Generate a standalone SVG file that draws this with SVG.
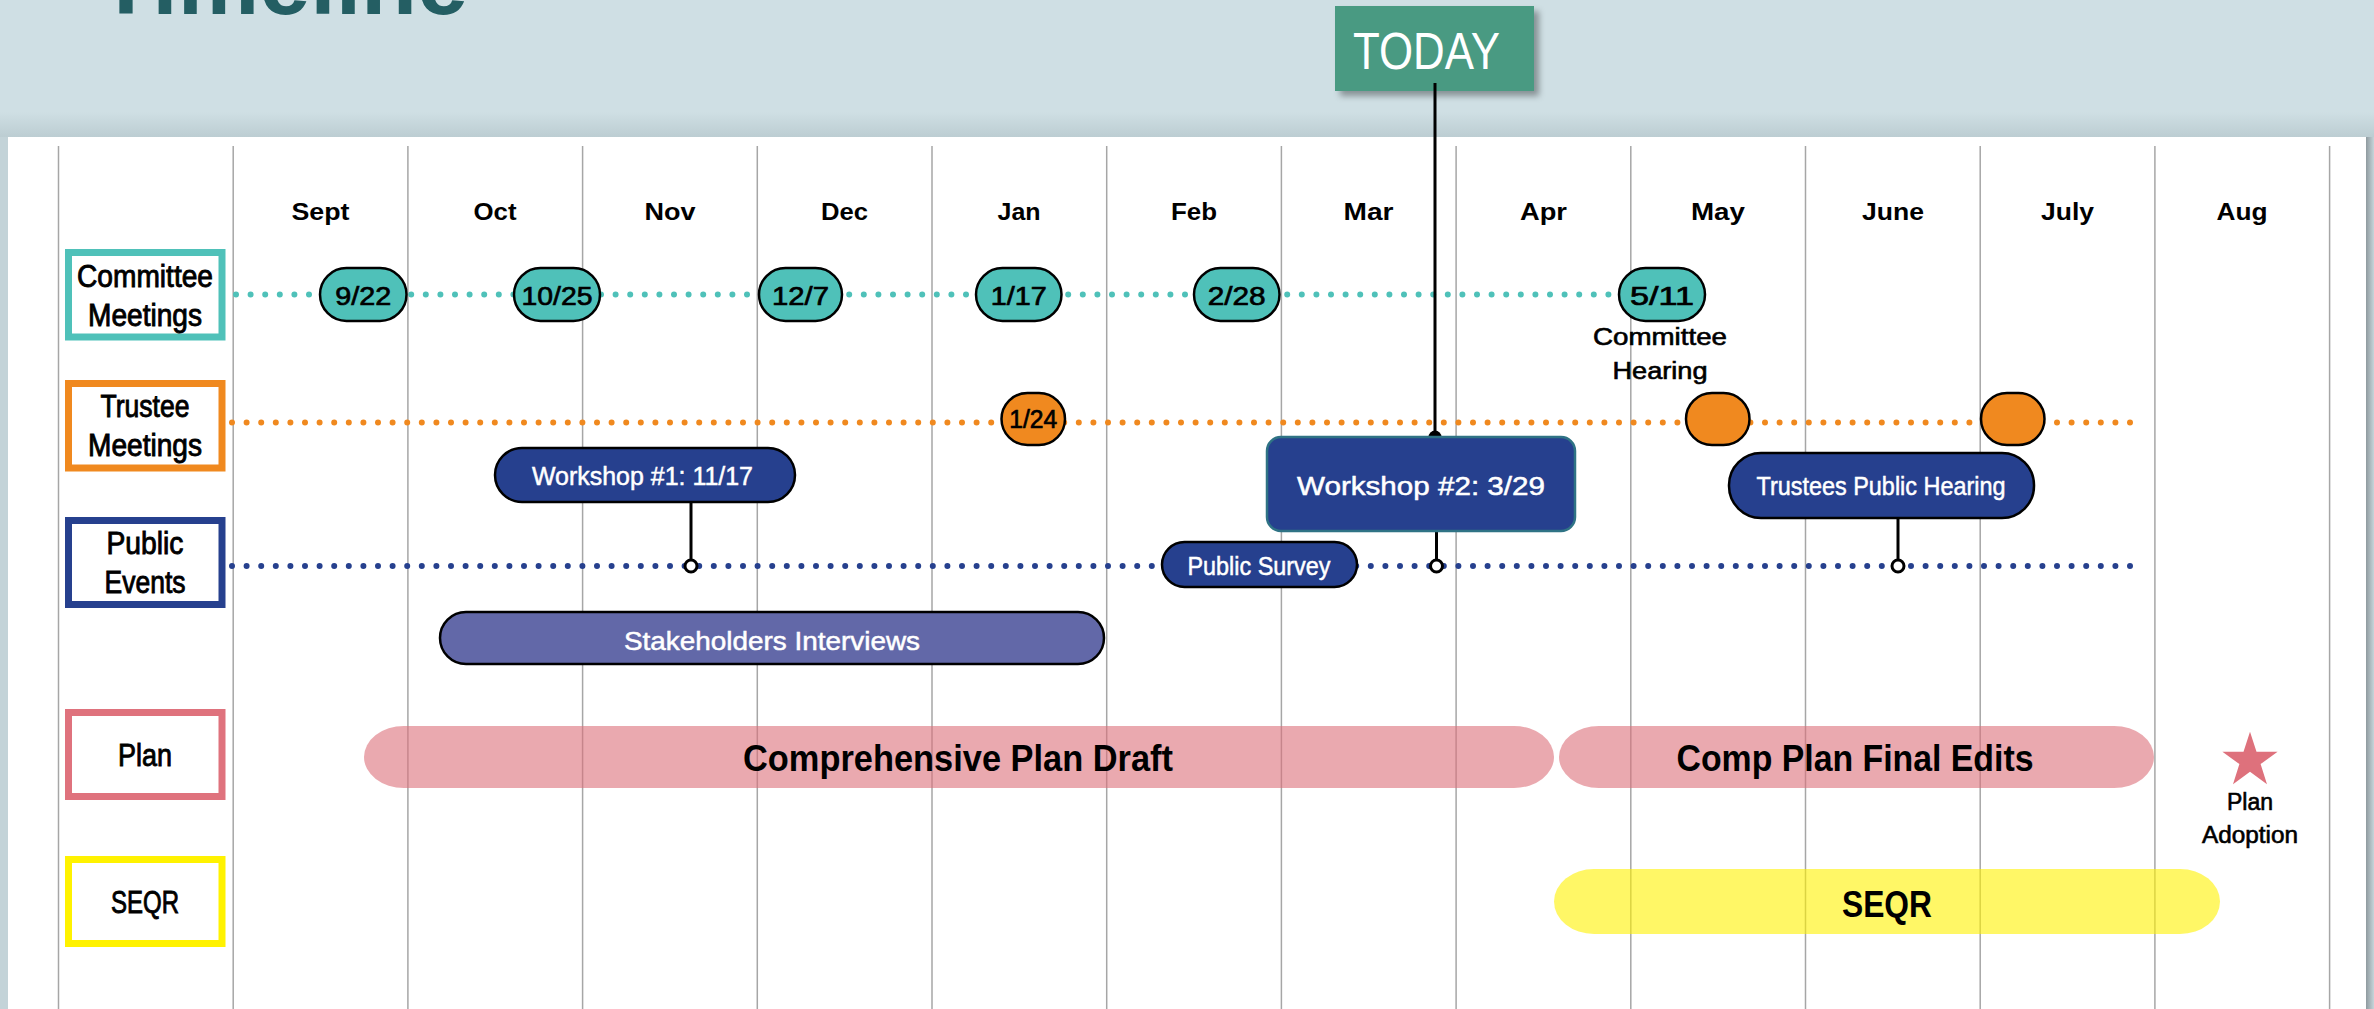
<svg xmlns="http://www.w3.org/2000/svg" width="2374" height="1009" viewBox="0 0 2374 1009">
  <defs>
    <linearGradient id="topShade" x1="0" y1="0" x2="0" y2="1">
      <stop offset="0" stop-color="#cfdfe4"/>
      <stop offset="1" stop-color="#bccdd2"/>
    </linearGradient>
    <linearGradient id="rightShade" x1="0" y1="0" x2="1" y2="0">
      <stop offset="0" stop-color="#8f9a9f"/>
      <stop offset="1" stop-color="#c6d5da"/>
    </linearGradient>
    <filter id="boxShadow" x="-10%" y="-10%" width="130%" height="140%">
      <feDropShadow dx="5" dy="5" stdDeviation="3" flood-color="#000" flood-opacity="0.35"/>
    </filter>
    <style>
      text { font-family: "Liberation Sans", Arial, sans-serif; text-anchor: middle; }
      .month { font-size: 24px; font-weight: bold; fill: #000; }
      .rowlbl { font-size: 31px; fill: #000; stroke: #000; stroke-width: 0.9px; }
      .rowbox { fill: #fff; stroke-width: 7; }
      .grid { stroke: #a6a6a6; stroke-width: 1.5; }
      .dots { fill: none; stroke-width: 6; stroke-linecap: round; stroke-dasharray: 0 14.6; }
      .date { font-size: 26px; fill: #000; stroke: #000; stroke-width: 0.7px; }
      .pill { fill: #26408e; stroke: #000; stroke-width: 2.5; }
      .pilltxt { fill: #fff; font-size: 26px; stroke: #fff; stroke-width: 0.5px; }
      .bartxt { font-size: 36px; font-weight: bold; fill: #000; }
      .stem { stroke: #000; stroke-width: 3; }
      .pin { fill: #fff; stroke: #000; stroke-width: 3; }
      .note { font-size: 23px; fill: #000; stroke: #000; stroke-width: 0.6px; }
    </style>
  </defs>

  <!-- backdrop and page -->
  <rect x="0" y="0" width="2374" height="1009" fill="#cfdfe4"/>
  <rect x="0" y="112" width="2374" height="25" fill="url(#topShade)"/>
  <rect x="0" y="137" width="8" height="872" fill="#c3d3d8"/>
  <rect x="2366" y="137" width="8" height="872" fill="url(#rightShade)"/>
  <rect x="8" y="137" width="2358" height="872" fill="#fff"/>

  <!-- heading, mostly above the visible area -->
  <text x="283" y="14" font-size="95" font-weight="bold" fill="#245e63" textLength="370" lengthAdjust="spacingAndGlyphs">Timeline</text>

  <!-- month grid -->
  <g id="grid">
    <line class="grid" x1="58.5" y1="146" x2="58.5" y2="1009"/>
    <line class="grid" x1="233.2" y1="146" x2="233.2" y2="1009"/>
    <line class="grid" x1="407.9" y1="146" x2="407.9" y2="1009"/>
    <line class="grid" x1="582.6" y1="146" x2="582.6" y2="1009"/>
    <line class="grid" x1="757.3" y1="146" x2="757.3" y2="1009"/>
    <line class="grid" x1="932" y1="146" x2="932" y2="1009"/>
    <line class="grid" x1="1106.7" y1="146" x2="1106.7" y2="1009"/>
    <line class="grid" x1="1281.4" y1="146" x2="1281.4" y2="1009"/>
    <line class="grid" x1="1456.1" y1="146" x2="1456.1" y2="1009"/>
    <line class="grid" x1="1630.8" y1="146" x2="1630.8" y2="1009"/>
    <line class="grid" x1="1805.5" y1="146" x2="1805.5" y2="1009"/>
    <line class="grid" x1="1980.2" y1="146" x2="1980.2" y2="1009"/>
    <line class="grid" x1="2154.9" y1="146" x2="2154.9" y2="1009"/>
    <line class="grid" x1="2329.6" y1="146" x2="2329.6" y2="1009"/>
  </g>

  <g id="months">
    <text class="month" x="320.5" y="220" textLength="58" lengthAdjust="spacingAndGlyphs">Sept</text>
    <text class="month" x="495" y="220" textLength="43" lengthAdjust="spacingAndGlyphs">Oct</text>
    <text class="month" x="670" y="220" textLength="51" lengthAdjust="spacingAndGlyphs">Nov</text>
    <text class="month" x="844.5" y="220" textLength="47" lengthAdjust="spacingAndGlyphs">Dec</text>
    <text class="month" x="1019" y="220" textLength="43" lengthAdjust="spacingAndGlyphs">Jan</text>
    <text class="month" x="1194" y="220" textLength="46" lengthAdjust="spacingAndGlyphs">Feb</text>
    <text class="month" x="1368.5" y="220" textLength="50" lengthAdjust="spacingAndGlyphs">Mar</text>
    <text class="month" x="1543.5" y="220" textLength="47" lengthAdjust="spacingAndGlyphs">Apr</text>
    <text class="month" x="1718" y="220" textLength="54" lengthAdjust="spacingAndGlyphs">May</text>
    <text class="month" x="1893" y="220" textLength="62" lengthAdjust="spacingAndGlyphs">June</text>
    <text class="month" x="2067.5" y="220" textLength="53" lengthAdjust="spacingAndGlyphs">July</text>
    <text class="month" x="2242" y="220" textLength="51" lengthAdjust="spacingAndGlyphs">Aug</text>
  </g>

  <!-- row headers -->
  <g id="row-committee">
    <rect class="rowbox" x="68.5" y="252.5" width="153.5" height="84.5" stroke="#4fc1b9"/>
    <text class="rowlbl" x="145" y="286.7" textLength="136" lengthAdjust="spacingAndGlyphs">Committee</text>
    <text class="rowlbl" x="145" y="325.5" textLength="114" lengthAdjust="spacingAndGlyphs">Meetings</text>
  </g>
  <g id="row-trustee">
    <rect class="rowbox" x="68.5" y="383.5" width="153.5" height="84.5" stroke="#f0891f"/>
    <text class="rowlbl" x="145" y="416.7" textLength="89" lengthAdjust="spacingAndGlyphs">Trustee</text>
    <text class="rowlbl" x="145" y="455.5" textLength="114" lengthAdjust="spacingAndGlyphs">Meetings</text>
  </g>
  <g id="row-public">
    <rect class="rowbox" x="68.5" y="520.5" width="153.5" height="84" stroke="#26408e"/>
    <text class="rowlbl" x="145" y="554" textLength="77" lengthAdjust="spacingAndGlyphs">Public</text>
    <text class="rowlbl" x="145" y="593.3" textLength="81" lengthAdjust="spacingAndGlyphs">Events</text>
  </g>
  <g id="row-plan">
    <rect class="rowbox" x="68.5" y="712.5" width="153.5" height="84" stroke="#df727d"/>
    <text class="rowlbl" x="145" y="766" textLength="54" lengthAdjust="spacingAndGlyphs">Plan</text>
  </g>
  <g id="row-seqr">
    <rect class="rowbox" x="68.5" y="859.5" width="153.5" height="84" stroke="#fff200"/>
    <text class="rowlbl" x="145" y="912.7" textLength="68" lengthAdjust="spacingAndGlyphs">SEQR</text>
  </g>

  <!-- long phase bars (translucent so the grid shows through) -->
  <g id="bar-draft">
    <rect x="364" y="726" width="1190" height="62" rx="40" ry="31" fill="#dc6f7a" fill-opacity="0.6"/>
    <text class="bartxt" x="958" y="770.7" textLength="430" lengthAdjust="spacingAndGlyphs">Comprehensive Plan Draft</text>
  </g>
  <g id="bar-final">
    <rect x="1559" y="726" width="595" height="62" rx="40" ry="31" fill="#dc6f7a" fill-opacity="0.6"/>
    <text class="bartxt" x="1855" y="770.7" textLength="357" lengthAdjust="spacingAndGlyphs">Comp Plan Final Edits</text>
  </g>
  <g id="bar-seqr">
    <rect x="1554" y="869" width="666" height="65" rx="40" ry="32.5" fill="#fff200" fill-opacity="0.6"/>
    <text class="bartxt" x="1887" y="916.7" textLength="90" lengthAdjust="spacingAndGlyphs">SEQR</text>
  </g>

  <!-- dotted track lines, stems and pins -->
  <g id="connectors">
    <line class="dots" x1="236" y1="294.5" x2="1620" y2="294.5" stroke="#4fc1b9"/>
    <line class="dots" x1="232" y1="422.5" x2="2132" y2="422.5" stroke="#f0891f"/>
    <line class="dots" x1="232" y1="566" x2="2132" y2="566" stroke="#26408e"/>
    <line class="stem" x1="691" y1="502" x2="691" y2="560"/>
    <circle class="pin" cx="691" cy="566" r="6"/>
    <line class="stem" x1="1436.5" y1="531" x2="1436.5" y2="560"/>
    <circle class="pin" cx="1436.5" cy="566" r="6"/>
    <line class="stem" x1="1898" y1="518" x2="1898" y2="560"/>
    <circle class="pin" cx="1898" cy="566" r="6"/>
    <line class="stem" x1="1435" y1="83" x2="1435" y2="437"/>
    <circle cx="1435" cy="437" r="6.5" fill="#000"/>
  </g>

  <!-- committee meetings -->
  <g id="cm-0922">
    <rect x="320" y="268" width="86.5" height="53" rx="26.5" fill="#4fc1b9" stroke="#000" stroke-width="2.5"/>
    <text class="date" x="363.2" y="305" textLength="56" lengthAdjust="spacingAndGlyphs">9/22</text>
  </g>
  <g id="cm-1025">
    <rect x="514" y="268" width="86" height="53" rx="26.5" fill="#4fc1b9" stroke="#000" stroke-width="2.5"/>
    <text class="date" x="557" y="305" textLength="71" lengthAdjust="spacingAndGlyphs">10/25</text>
  </g>
  <g id="cm-1207">
    <rect x="759" y="268" width="83" height="53" rx="26.5" fill="#4fc1b9" stroke="#000" stroke-width="2.5"/>
    <text class="date" x="800.5" y="305" textLength="57" lengthAdjust="spacingAndGlyphs">12/7</text>
  </g>
  <g id="cm-0117">
    <rect x="976" y="268" width="85.5" height="53" rx="26.5" fill="#4fc1b9" stroke="#000" stroke-width="2.5"/>
    <text class="date" x="1018.7" y="305" textLength="56" lengthAdjust="spacingAndGlyphs">1/17</text>
  </g>
  <g id="cm-0228">
    <rect x="1194" y="268" width="85.5" height="53" rx="26.5" fill="#4fc1b9" stroke="#000" stroke-width="2.5"/>
    <text class="date" x="1236.7" y="305" textLength="58" lengthAdjust="spacingAndGlyphs">2/28</text>
  </g>
  <g id="cm-0511">
    <rect x="1619" y="268" width="86" height="53" rx="26.5" fill="#4fc1b9" stroke="#000" stroke-width="2.5"/>
    <text class="date" x="1662" y="305" textLength="64" lengthAdjust="spacingAndGlyphs">5/11</text>
    <text class="note" x="1660" y="345" textLength="134" lengthAdjust="spacingAndGlyphs">Committee</text>
    <text class="note" x="1660" y="379" textLength="95" lengthAdjust="spacingAndGlyphs">Hearing</text>
  </g>

  <!-- trustee meetings -->
  <g id="tm-0124">
    <rect x="1001.5" y="393" width="63.5" height="52" rx="26" fill="#f0891f" stroke="#000" stroke-width="2.5"/>
    <text class="date" x="1033.2" y="428.3" font-size="22" textLength="48" lengthAdjust="spacingAndGlyphs">1/24</text>
  </g>
  <g id="tm-may">
    <rect x="1686" y="393" width="63.5" height="52" rx="26" fill="#f0891f" stroke="#000" stroke-width="2.5"/>
  </g>
  <g id="tm-july">
    <rect x="1981" y="393" width="63.5" height="52" rx="26" fill="#f0891f" stroke="#000" stroke-width="2.5"/>
  </g>

  <!-- public events -->
  <g id="pe-workshop1">
    <rect class="pill" x="495" y="448" width="300" height="54" rx="27"/>
    <text class="pilltxt" x="642.5" y="485" font-size="27" textLength="221" lengthAdjust="spacingAndGlyphs">Workshop #1: 11/17</text>
  </g>
  <g id="pe-workshop2">
    <rect x="1267" y="437" width="308" height="94" rx="14" fill="#26408e" stroke="#2f7385" stroke-width="2.5"/>
    <text class="pilltxt" x="1421" y="495" font-size="28" textLength="248" lengthAdjust="spacingAndGlyphs">Workshop #2: 3/29</text>
  </g>
  <g id="pe-survey">
    <rect class="pill" x="1162" y="542" width="195" height="45" rx="22.5"/>
    <text class="pilltxt" x="1259" y="575" textLength="143" lengthAdjust="spacingAndGlyphs">Public Survey</text>
  </g>
  <g id="pe-hearing">
    <rect class="pill" x="1729" y="453" width="305" height="65" rx="32"/>
    <text class="pilltxt" x="1881" y="495" textLength="249" lengthAdjust="spacingAndGlyphs">Trustees Public Hearing</text>
  </g>
  <g id="pe-interviews">
    <rect x="440" y="612" width="664" height="52" rx="26" fill="#6268a8" stroke="#000" stroke-width="2.5"/>
    <text class="pilltxt" x="772" y="650" font-size="30" textLength="296" lengthAdjust="spacingAndGlyphs">Stakeholders Interviews</text>
  </g>

  <!-- adoption milestone -->
  <g id="plan-adoption">
    <polygon points="2250,731.7 2256.5,751.7 2277.6,751.7 2260.6,764.1 2267,784.2 2250,771.8 2233,784.2 2239.4,764.1 2222.4,751.7 2243.5,751.7" fill="#de717c"/>
    <text class="note" x="2250" y="810" font-size="21" textLength="46" lengthAdjust="spacingAndGlyphs">Plan</text>
    <text class="note" x="2250" y="843" font-size="21" textLength="96" lengthAdjust="spacingAndGlyphs">Adoption</text>
  </g>

  <!-- current-date marker -->
  <g id="today">
    <rect x="1335" y="6" width="199" height="85" fill="#4a9a82" filter="url(#boxShadow)"/>
    <text x="1426.5" y="69" font-size="52" fill="#fff" textLength="147" lengthAdjust="spacingAndGlyphs">TODAY</text>
    <line class="stem" x1="1435" y1="83" x2="1435" y2="91"/>
  </g>
</svg>
